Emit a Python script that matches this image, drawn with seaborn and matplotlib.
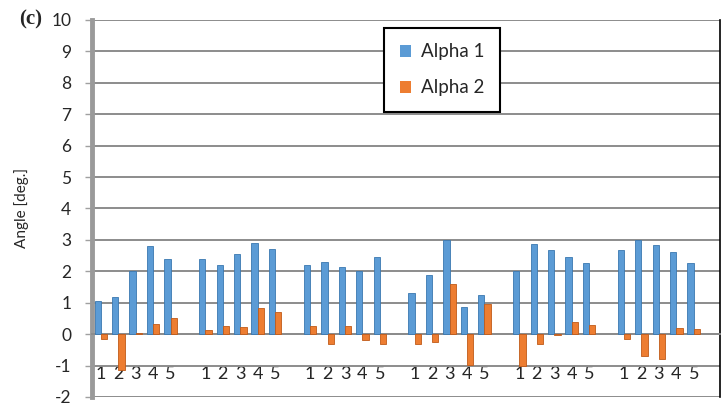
import numpy as np
import pandas as pd
import matplotlib
matplotlib.use("Agg")
import matplotlib.pyplot as plt
import seaborn as sns

# ---- data ----
groups = 6
points = ["1", "2", "3", "4", "5"]
alpha1 = [1.05, 1.17, 2.0, 2.8, 2.4,
          2.4, 2.2, 2.55, 2.9, 2.7,
          2.2, 2.3, 2.15, 2.0, 2.47,
          1.3, 1.88, 3.0, 0.88, 1.25,
          2.0, 2.88, 2.68, 2.45, 2.25,
          2.68, 3.0, 2.84, 2.6, 2.25]
alpha2 = [-0.17, -1.15, 0.03, 0.32, 0.52,
          0.12, 0.27, 0.23, 0.82, 0.72,
          0.25, -0.3, 0.27, -0.2, -0.3,
          -0.3, -0.25, 1.6, -0.97, 0.97,
          -1.02, -0.3, -0.03, 0.4, 0.3,
          -0.15, -0.7, -0.8, 0.2, 0.15]
series_names = ["Alpha 1", "Alpha 2"]
y_ticks = list(range(-2, 11))

# build table: 6 slots per group (5 points + 1 blank)
rows = []
tick_pos, tick_lab = [], []
for g in range(groups):
    for i, p in enumerate(points):
        slot = g * 6 + i
        k = g * 5 + i
        rows.append({"slot": slot, "series": series_names[0], "value": alpha1[k]})
        rows.append({"slot": slot, "series": series_names[1], "value": alpha2[k]})
        tick_pos.append(slot)
        tick_lab.append(p)
df = pd.DataFrame(rows)
n_slots = groups * 6

sns.set_style("white")
plt.rcParams["font.family"] = ["Lato", "DejaVu Sans"]

fig = plt.figure(figsize=(7.25, 4.08), dpi=100)
ax = fig.add_axes([0.127, 0.027, 0.866, 0.924])

palette = {"Alpha 1": "#5B9BD5", "Alpha 2": "#ED7D31"}
sns.barplot(data=df, x="slot", y="value", hue="series", order=list(range(n_slots)),
            hue_order=series_names, palette=palette, width=0.72, ax=ax,
            edgecolor=None, linewidth=0, saturation=1, errorbar=None, zorder=3)
# darker edges like 3D bars
for cont, ec in zip(ax.containers, ["#3A78B0", "#C05A18"]):
    for b in cont:
        b.set_edgecolor(ec)
        b.set_linewidth(0.6)

ax.set_ylim(-2, 10)
ax.set_xlim(-0.5, n_slots - 0.5)
ax.set_yticks(y_ticks)
ax.set_yticklabels([str(t) for t in y_ticks], fontsize=12.5)
ax.grid(axis="y", color="#8C8C8C", linewidth=1.4, zorder=0)
ax.set_axisbelow(True)

# category axis at y = 0
ax.spines["bottom"].set_position(("data", 0))
ax.spines["bottom"].set_color("#8C8C8C")
ax.spines["bottom"].set_linewidth(1.4)
ax.set_xticks(tick_pos)
ax.set_xticklabels(tick_lab, fontsize=13)
ax.set_xticks(np.arange(-0.5, n_slots, 1.0), minor=True)
ax.tick_params(axis="x", which="major", length=0, pad=23)
ax.tick_params(axis="x", which="minor", length=5, color="#A0A0A0", width=1, direction="out")
ax.tick_params(axis="y", length=5, color="#A0A0A0", width=1, direction="out", pad=10, left=True)

ax.spines["left"].set_color("#9A9A9A")
ax.spines["left"].set_linewidth(3.5)
ax.spines["right"].set_color("black")
ax.spines["right"].set_linewidth(1.2)
ax.spines["top"].set_visible(False)

ax.set_xlabel("")
ax.set_ylabel("Angle [deg.]", fontsize=11, labelpad=16)

leg = ax.legend(loc="upper left", bbox_to_anchor=(0.465, 0.98), frameon=True,
                fontsize=13.5, handlelength=0.6, handleheight=0.6, handletextpad=0.5,
                labelspacing=1.0, borderpad=0.85, fancybox=False, borderaxespad=0)
leg.get_frame().set_edgecolor("black")
leg.get_frame().set_linewidth(1.5)
leg.get_frame().set_facecolor("white")
leg.get_frame().set_alpha(1)
leg.set_zorder(10)

fig.text(0.027, 0.952, "(c)", fontsize=15, fontweight="bold",
         family=["Liberation Serif", "DejaVu Serif"], ha="left", va="center")

fig.savefig("out.png", dpi=100)
